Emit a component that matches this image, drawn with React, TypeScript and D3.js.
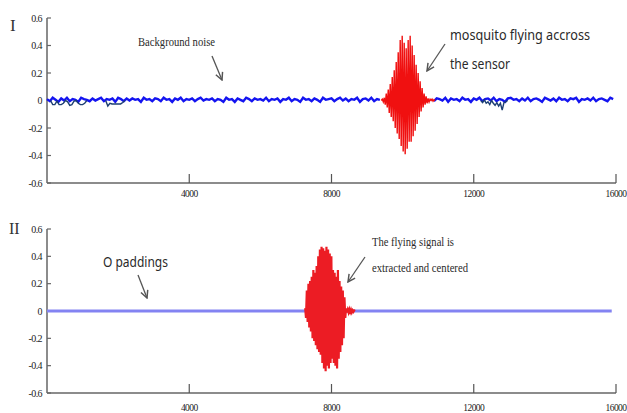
import React, { useEffect, useRef } from "react";
import * as d3 from "d3";

// sample spacing in the x unit (samples)
const noiseStep = 80;
const noiseI = [
  0.01, -0.005, 0.02, 0.005, -0.01, 0.015, 0, 0.02, -0.005, 0.01,
  0.005, -0.01, 0.02, 0.01, 0.005, -0.005, 0.015, 0, 0.01, 0.02,
  -0.005, 0.01, 0.005, 0.015, -0.01, 0.02, 0.01, -0.005, 0.015, 0,
  0.015, 0.005, 0.01, -0.01, 0.02, 0.005, 0.01, -0.005, 0.015, 0.01,
  -0.005, 0.02, 0.005, 0.01, -0.01, 0.015, 0.005, 0.02, -0.005, 0.01,
  0.005, 0.015, -0.005, 0.01, 0.02, 0, 0.01, 0.005, 0.015, -0.005,
  0.01, 0.005, -0.01, 0.02, 0.005, 0.01, -0.01, 0.015, 0.005, -0.005,
  0.02, 0.01, -0.005, 0.015, 0.005, 0.01, 0, 0.02, -0.005, 0.01,
  0.005, 0.015, -0.01, 0.01, 0.005, 0.02, -0.005, 0.01, 0.005, -0.01,
  0.02, 0.005, 0.01, -0.005, 0.015, 0.005, -0.01, 0.02, 0.005, 0.01,
  0.015, -0.005, 0.01, 0.02, 0, 0.015, -0.005, 0.01, 0.005, 0.02,
  -0.01, 0.01, 0.015, 0, 0.02, -0.005, 0.01, 0.005, 0.015, -0.01,
  0.02, 0.005, 0.01, -0.005, 0.015, 0.01, 0, 0.02, -0.005, 0.01,
  0.005, 0.015, -0.01, 0.02, 0.005, 0.01, -0.005, 0.015, 0.01, 0,
  0.02, -0.01, 0.015, 0.005, 0.01, -0.005, 0.02, 0.005, 0.01, -0.01,
  0.015, 0.005, 0.02, -0.005, 0.01, 0.015, 0, 0.02, -0.005, 0.01,
  0.005, -0.01, 0.015, 0.02, 0.005, 0.01, -0.005, 0.015, 0, 0.02,
  -0.005, 0.01, 0.015, 0.005, -0.01, 0.02, 0.01, 0, 0.015, -0.005,
  0.02, 0.005, 0.01, -0.005, 0.015, 0.01, 0.02, -0.01, 0.01, 0.005,
  0.015, 0, 0.02, -0.005, 0.01, 0.015, 0.005, -0.005, 0.02, 0.01,
];

// mosquito passage in the raw recording
const burstIStart = 9400;
const burstIStep = 28;
const burstI = [
  0, 0.01, -0.01, 0.02, -0.03, 0.05, -0.05, 0.08, -0.09, 0.12,
  -0.12, 0.17, -0.15, 0.22, -0.2, 0.28, -0.24, 0.35, -0.28, 0.44,
  -0.33, 0.47, -0.37, 0.42, -0.39, 0.38, -0.35, 0.44, -0.3, 0.47,
  -0.3, 0.4, -0.26, 0.33, -0.22, 0.26, -0.17, 0.2, -0.12, 0.14,
  -0.08, 0.09, -0.05, 0.05, -0.03, 0.03, -0.02, 0.015, -0.01, 0.01,
  0, 0.01, -0.005, 0.005, 0,
];

// dark glitches on the raw trace: [start, step, values]
const darkTraces: [number, number, number[]][] = [
  [100, 60, [0, -0.03, -0.03, -0.005, -0.03, -0.03, -0.02, 0, -0.01, -0.035, -0.03, -0.005, 0, -0.02, -0.03, -0.03, -0.02, 0]],
  [1650, 60, [0, -0.04, -0.02, -0.025, -0.025, -0.025, -0.025, -0.025, -0.015, 0]],
  [12200, 50, [0, -0.015, 0.005, -0.02, -0.01, -0.03, 0, -0.02, -0.035, -0.015, -0.04, -0.02, -0.07, -0.015, -0.01, 0]],
];

// extracted signal, centered, zero padded
const burstIIStart = 7260;
const burstIIStep = 23;
const burstII = [
  0.02, -0.05, 0.15, -0.08, 0.2, -0.12, 0.22, -0.15, 0.25, -0.2,
  0.3, -0.22, 0.28, -0.25, 0.33, -0.28, 0.4, -0.3, 0.45, -0.32,
  0.47, -0.38, 0.46, -0.42, 0.44, -0.44, 0.47, -0.4, 0.45, -0.42,
  0.42, -0.38, 0.4, -0.35, 0.3, -0.38, 0.28, -0.4, 0.25, -0.42,
  0.3, -0.35, 0.22, -0.3, 0.18, -0.25, 0.15, -0.2, 0.1, -0.05,
  0.02, -0.01, 0.01, -0.01, 0.012, -0.008, 0.01, -0.01, 0.005, -0.006,
  0.004, 0,
];
const paddingX = [0, 15880];

const xTicks = [4000, 8000, 12000, 16000];
const yTicks = [0.6, 0.4, 0.2, 0, -0.2, -0.4, -0.6];

const App = () => {
  const svgRef = useRef(null);

  useEffect(() => {
    const width = 627;
    const height = 413;
    const svg = d3.select(svgRef.current)
      .attr('width', width)
      .attr('height', height);

    svg.selectAll('*').remove();

    const x = d3.scaleLinear().domain([0, 16000]).range([47, 616]);
    const yI = d3.scaleLinear().domain([-0.6, 0.6]).range([183, 18]);
    const yII = d3.scaleLinear().domain([-0.6, 0.6]).range([393, 229]);

    svg.append('defs').append('marker')
      .attr('id', 'arr')
      .attr('viewBox', '0 0 10 10')
      .attr('refX', 9).attr('refY', 5)
      .attr('markerWidth', 7).attr('markerHeight', 7)
      .attr('orient', 'auto')
      .append('path')
      .attr('d', 'M1,1 L9,5 L1,9')
      .attr('fill', 'none')
      .attr('stroke', '#555')
      .attr('stroke-width', 1.6);

    const drawAxes = (y, labelY) => {
      const g = svg.append('g');
      g.append('line')
        .attr('x1', x(0)).attr('x2', x(0))
        .attr('y1', y(0.6)).attr('y2', y(-0.6))
        .attr('stroke', '#666').attr('stroke-width', 1.5);
      g.append('line')
        .attr('x1', x(0)).attr('x2', x(16000))
        .attr('y1', y(-0.6)).attr('y2', y(-0.6))
        .attr('stroke', '#666').attr('stroke-width', 1.5);
      yTicks.forEach(t => {
        g.append('line')
          .attr('x1', x(0)).attr('x2', x(0) + 4)
          .attr('y1', y(t)).attr('y2', y(t))
          .attr('stroke', '#666').attr('stroke-width', 1.2);
        g.append('text')
          .attr('x', x(0) - 5).attr('y', y(t) + 3.5)
          .attr('text-anchor', 'end')
          .attr('font-family', 'Liberation Serif')
          .attr('font-size', 10)
          .attr('letter-spacing', -0.6)
          .attr('fill', '#222')
          .text(t === 0 ? '0' : String(t));
      });
      xTicks.forEach(t => {
        g.append('line')
          .attr('x1', x(t)).attr('x2', x(t))
          .attr('y1', y(-0.6)).attr('y2', y(-0.6) - 9)
          .attr('stroke', '#555').attr('stroke-width', 1.2);
        g.append('text')
          .attr('x', x(t)).attr('y', labelY)
          .attr('text-anchor', 'middle')
          .attr('font-family', 'Liberation Serif')
          .attr('font-size', 9.5)
          .attr('letter-spacing', -0.6)
          .attr('fill', '#222')
          .text(String(t));
      });
    };

    drawAxes(yI, 197);
    drawAxes(yII, 411);

    // panel I
    const noisePts = noiseI.map((v, i) => [i * noiseStep, v]);
    const lineI = d3.line().x(d => x(d[0])).y(d => yI(d[1]));
    const burstIEnd = burstIStart + (burstI.length - 1) * burstIStep;
    [noisePts.filter(d => d[0] <= burstIStart), noisePts.filter(d => d[0] >= burstIEnd - 100)]
      .forEach(seg => {
        svg.append('path')
          .attr('d', lineI(seg))
          .attr('fill', 'none')
          .attr('stroke', '#1414f0')
          .attr('stroke-width', 2.4);
      });
    darkTraces.forEach(([s, st, vals]) => {
      svg.append('path')
        .attr('d', lineI(vals.map((v, i) => [s + i * st, v])))
        .attr('fill', 'none')
        .attr('stroke', '#1d3f72')
        .attr('stroke-width', 1.4);
    });
    svg.append('path')
      .attr('d', lineI(burstI.map((v, i) => [burstIStart + i * burstIStep, v])))
      .attr('fill', 'none')
      .attr('stroke', '#f01010')
      .attr('stroke-width', 1.4);

    // panel II
    const lineII = d3.line().x(d => x(d[0])).y(d => yII(d[1]));
    svg.append('path')
      .attr('d', lineII(paddingX.map(v => [v, 0])))
      .attr('fill', 'none')
      .attr('stroke', '#8383f2')
      .attr('stroke-width', 3);
    svg.append('path')
      .attr('d', lineII(burstII.map((v, i) => [burstIIStart + i * burstIIStep, v])))
      .attr('fill', 'none')
      .attr('stroke', '#ec1c24')
      .attr('stroke-width', 2.2);

    // panel labels
    svg.append('text').attr('x', 10).attr('y', 31)
      .attr('font-family', 'Liberation Serif').attr('font-size', 17).attr('fill', '#333')
      .text('I');
    svg.append('text').attr('x', 9).attr('y', 234)
      .attr('font-family', 'Liberation Serif').attr('font-size', 16).attr('fill', '#333')
      .text('II');

    const note = (tx, ty, str, family, size, len) => {
      svg.append('text')
        .attr('x', tx).attr('y', ty)
        .attr('font-family', family)
        .attr('font-size', size)
        .attr('fill', '#2a2a2a')
        .attr('textLength', len)
        .attr('lengthAdjust', 'spacingAndGlyphs')
        .text(str);
    };
    const arrow = (x1, y1, x2, y2) => {
      svg.append('line')
        .attr('x1', x1).attr('y1', y1).attr('x2', x2).attr('y2', y2)
        .attr('stroke', '#555').attr('stroke-width', 1.3)
        .attr('marker-end', 'url(#arr)');
    };

    note(138, 46, 'Background noise', 'Liberation Serif', 12, 77);
    arrow(212, 56, 222, 80);
    note(450, 40, 'mosquito flying accross', 'Noto Sans', 15, 140);
    note(450, 69, 'the sensor', 'Noto Sans', 15, 60);
    arrow(445, 44, 427, 71);
    note(103, 267, 'O paddings', 'Noto Sans', 15, 65);
    arrow(138, 275, 147, 298);
    note(372, 246, 'The flying signal is', 'Liberation Serif', 12, 82);
    note(372, 272, 'extracted and centered', 'Liberation Serif', 12, 96);
    arrow(365, 257, 348, 282);
  }, []);

  return (
    <svg ref={svgRef} style={{ position: 'absolute', left: 0, top: 0 }} />
  );
};

export default App;
